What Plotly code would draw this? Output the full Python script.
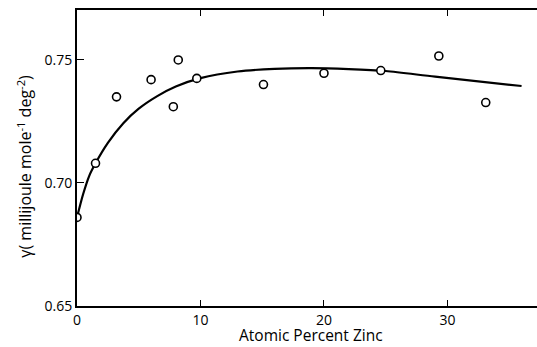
import plotly.graph_objects as go

# Measured data points (atomic percent zinc, gamma)
zinc_pct = [0.0, 1.5, 3.2, 6.0, 7.8, 8.2, 9.7, 15.1, 20.0, 24.6, 29.3, 33.1]
gamma = [0.686, 0.708, 0.735, 0.742, 0.731, 0.750, 0.7425, 0.740, 0.7446, 0.7457, 0.7516, 0.7327]

# Smooth curve
curve_x = [0.0, 0.5, 1.0, 1.5, 2.5, 3.75, 5.0, 6.5, 8.0, 10.0, 13.0, 16.0, 19.0, 22.0, 25.0, 29.0, 36.0]
curve_y = [0.686, 0.6955, 0.7030, 0.7080, 0.7163, 0.7243, 0.7302, 0.7353, 0.7392, 0.7426,
           0.7453, 0.7464, 0.7467, 0.7463, 0.7455, 0.7432, 0.7394]

x_ticks = [0, 10, 20, 30]
y_ticks = [0.65, 0.70, 0.75]
y_tick_labels = ["0.65", "0.70", "0.75"]

FONT = "Open Sans"

fig = go.Figure()
fig.add_trace(go.Scatter(
    x=curve_x, y=curve_y, mode="lines",
    line=dict(color="black", width=2.2, shape="spline", smoothing=0.8),
    hoverinfo="skip", showlegend=False,
))
fig.add_trace(go.Scatter(
    x=zinc_pct, y=gamma, mode="markers",
    marker=dict(symbol="circle", size=8, color="white",
                line=dict(color="black", width=1.6)),
    showlegend=False,
))

fig.update_layout(
    width=537, height=347,
    margin=dict(l=77, r=0, t=10, b=41),
    paper_bgcolor="white", plot_bgcolor="white",
    font=dict(family=FONT, color="black", size=13),
    xaxis=dict(
        range=[0, 37.25], tickvals=x_ticks, ticktext=[str(v) for v in x_ticks],
        ticks="inside", ticklen=6, tickwidth=1.2, tickcolor="black",
        showline=True, linecolor="black", linewidth=2, mirror="ticks",
        showgrid=False, zeroline=False,
        tickfont=dict(size=14, family=FONT),
    ),
    yaxis=dict(
        range=[0.65, 0.7703], tickvals=y_ticks, ticktext=y_tick_labels,
        ticks="inside", ticklen=7, tickwidth=1.2, tickcolor="black",
        showline=True, linecolor="black", linewidth=2, mirror=False,
        showgrid=False, zeroline=False,
        tickfont=dict(size=14, family=FONT),
    ),
    annotations=[
        dict(
            text="γ( millijoule mole<sup>-1</sup> deg<sup>-2</sup>)",
            xref="paper", yref="paper", x=-0.115, y=0.471,
            xanchor="center", yanchor="middle", textangle=-90,
            showarrow=False, font=dict(size=16, family=FONT, color="black"),
        ),
        dict(
            text="Atomic Percent Zinc",
            xref="paper", yref="paper", x=0.509, y=-0.098,
            xanchor="center", yanchor="middle",
            showarrow=False, font=dict(size=15.5, family=FONT, color="black"),
        ),
    ],
)

fig.write_html("out.html")
